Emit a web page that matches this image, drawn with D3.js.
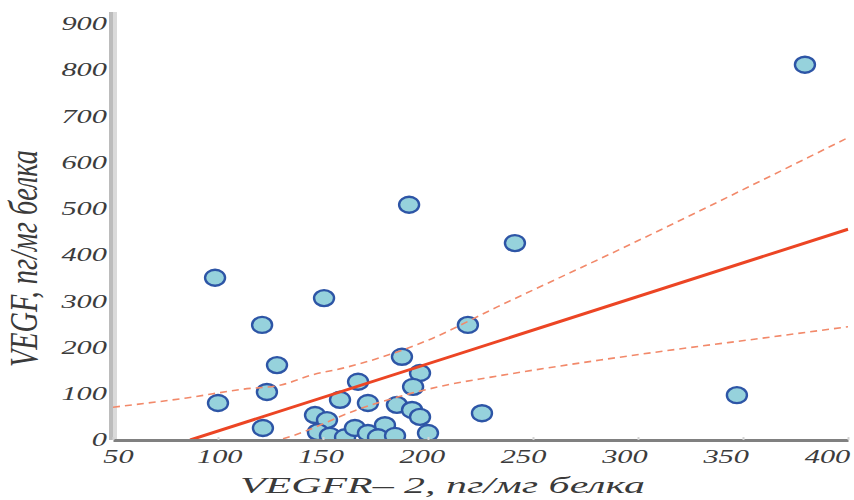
<!DOCTYPE html>
<html>
<head>
<meta charset="utf-8">
<script src="https://cdn.jsdelivr.net/npm/d3@7"></script>
<style>
  body { margin: 0; background: #fff; }
  text { font-family: "Liberation Serif", "DejaVu Serif", serif; font-style: italic; }
</style>
</head>
<body>
<div id="chart"></div>
<script>
// VEGFR-2 (x) vs VEGF (y), pg/mg protein
var vegfr2 = [98.6, 100, 121, 123.3, 121.4, 128.1, 150.5, 191, 241.4, 379.5, 347.1,
  219, 187.6, 196.2, 192.9, 166.7, 158.1, 171.4, 185.2, 192.4, 196.2, 225.7, 200,
  146.2, 151.9, 147.6, 153.3, 160.5, 165.2, 171.4, 179.5, 176.2, 184.3];
var vegf = [351, 80, 249, 104, 26, 162, 307, 509, 426, 812, 97,
  249, 180, 145, 115, 126, 87, 80, 76, 65, 50, 58, 15,
  54, 43, 17, 9, 6, 26, 15, 32, 6, 9];

// regression line and its confidence band
var fitX = [86.7, 400];
var fitY = [0, 456];
var upperX = [50, 85, 112, 130, 145, 160, 200, 233, 293, 400];
var upperY = [71, 91, 110, 119, 141, 156, 216, 288, 416, 654];
var lowerX = [120, 138, 166, 209, 230, 282, 323, 357, 400];
var lowerY = [-12, 13, 65, 119, 136, 173, 199, 219, 245];

var xTicks = [50, 100, 150, 200, 250, 300, 350, 400];
var yTicks = [0, 100, 200, 300, 400, 500, 600, 700, 800, 900];

var width = 854, height = 500;
var sx = 1.6; // the original figure is stretched sideways

var svg = d3.select("#chart").append("svg")
  .attr("width", width)
  .attr("height", height);

var x = d3.scaleLinear().domain([50, 400]).range([113, 848]);
var xLab = d3.scaleLinear().domain([50, 400]).range([118, 827]); // label centres drift
var y = d3.scaleLinear().domain([0, 900]).range([440, 24]);

svg.append("clipPath").attr("id", "plot-clip")
  .append("rect")
  .attr("x", x(50)).attr("y", 0)
  .attr("width", width - x(50)).attr("height", y(0));

// left axis bar
svg.append("rect")
  .attr("x", x(50) - 4).attr("y", 12)
  .attr("width", 4).attr("height", y(0) - 12)
  .attr("fill", "#bcbcbc");
svg.append("rect")
  .attr("x", x(50)).attr("y", 12)
  .attr("width", 4).attr("height", y(0) - 12)
  .attr("fill", "#dadada");

var plot = svg.append("g").attr("clip-path", "url(#plot-clip)");

// points
plot.selectAll("ellipse")
  .data(vegfr2.map(function(d, i) { return { x: d, y: vegf[i] }; }))
  .enter()
  .append("ellipse")
  .attr("cx", function(d) { return x(d.x); })
  .attr("cy", function(d) { return y(d.y); })
  .attr("rx", 10)
  .attr("ry", 8)
  .attr("fill", "#96d2dc")
  .attr("stroke", "#2d55a6")
  .attr("stroke-width", 2.4);

var line = d3.line()
  .x(function(d) { return x(d[0]); })
  .y(function(d) { return y(d[1]); })
  .curve(d3.curveMonotoneX);

function zip(a, b) { return a.map(function(d, i) { return [d, b[i]]; }); }

plot.append("path")
  .datum(zip(upperX, upperY))
  .attr("d", line)
  .attr("fill", "none")
  .attr("stroke", "#f2896a")
  .attr("stroke-width", 1.6)
  .attr("stroke-dasharray", "7,5");

plot.append("path")
  .datum(zip(lowerX, lowerY))
  .attr("d", line)
  .attr("fill", "none")
  .attr("stroke", "#f2896a")
  .attr("stroke-width", 1.6)
  .attr("stroke-dasharray", "7,5");

plot.append("path")
  .datum(zip(fitX, fitY))
  .attr("d", line)
  .attr("fill", "none")
  .attr("stroke", "#ec4524")
  .attr("stroke-width", 3);

// x axis
var xAxis = d3.axisBottom(x)
  .tickValues(xTicks)
  .tickSizeInner(-3)
  .tickSizeOuter(0)
  .tickFormat(d3.format("d"));

var gx = svg.append("g")
  .attr("transform", "translate(0," + y(0) + ")")
  .call(xAxis);
gx.select(".domain")
  .attr("stroke", "#808080")
  .attr("stroke-width", 3);
gx.selectAll(".tick line").attr("stroke", "#d4d4d4").attr("stroke-width", 2);
gx.selectAll(".tick text")
  .attr("y", 23)
  .attr("dy", 0)
  .attr("transform", function(d) { return "translate(" + (xLab(d) - x(d)) + ",0) scale(" + sx + ",1)"; })
  .attr("font-size", 19)
  .attr("fill", "#3c3c3c");

// y axis
var yAxis = d3.axisLeft(y)
  .tickValues(yTicks)
  .tickSize(0)
  .tickFormat(d3.format("d"));

var gy = svg.append("g")
  .attr("transform", "translate(" + x(50) + ",0)")
  .call(yAxis);
gy.select(".domain").remove();
gy.selectAll(".tick text")
  .attr("x", -6 / sx)
  .attr("dy", "0.3em")
  .attr("transform", "scale(" + sx + ",1)")
  .attr("font-size", 19)
  .attr("fill", "#3c3c3c");

// axis titles
svg.append("text")
  .attr("x", 240)
  .attr("y", 493)
  .attr("font-size", 24)
  .attr("fill", "#3a3a3a")
  .attr("textLength", 405)
  .attr("lengthAdjust", "spacingAndGlyphs")
  .text("VEGFR– 2, пг/мг белка");

svg.append("text")
  .attr("transform", "translate(37,367) scale(1.5,1) rotate(-90)")
  .attr("font-size", 26)
  .attr("fill", "#3a3a3a")
  .attr("textLength", 217)
  .attr("lengthAdjust", "spacingAndGlyphs")
  .text("VEGF, пг/мг белка");
</script>
</body>
</html>
